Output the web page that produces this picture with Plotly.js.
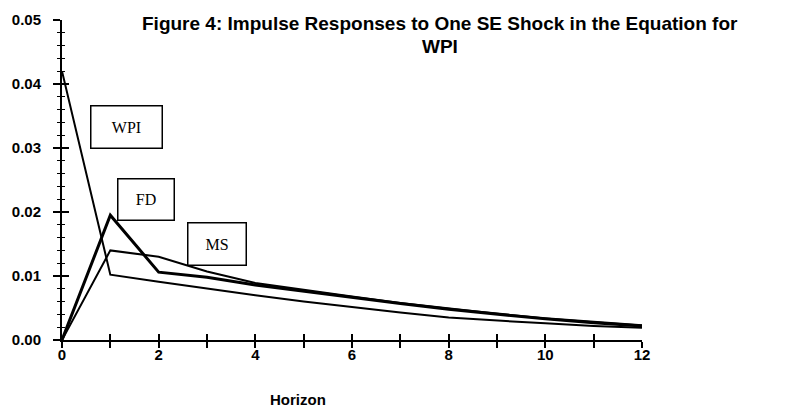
<!DOCTYPE html>
<html>
<head>
<meta charset="utf-8">
<script src="https://cdn.plot.ly/plotly-3.0.1.min.js"></script>
<style>html,body{margin:0;padding:0;background:#fff;}#chart{width:793px;height:411px;}</style>
</head>
<body>
<div id="chart"></div>
<script>
const horizon = [0,1,2,3,4,5,6,7,8,9,10,11,12];
const wpi = [0.0420,0.0102,0.0091,0.0080,0.0070,0.0060,0.0051,0.0043,0.0035,0.0030,0.0026,0.0022,0.0019];
const fd  = [0.0000,0.0195,0.0106,0.0098,0.0086,0.0076,0.0066,0.0057,0.0048,0.0040,0.0033,0.0027,0.0022];
const ms  = [0.0000,0.0140,0.0130,0.0107,0.0089,0.0078,0.0068,0.0058,0.0049,0.0041,0.0034,0.0028,0.0023];
const yTicks = [0,0.01,0.02,0.03,0.04,0.05];
const yTickText = ['0.00','0.01','0.02','0.03','0.04','0.05'];
const xTicks = [0,1,2,3,4,5,6,7,8,9,10,11,12];
const xTickText = ['0','','2','','4','','6','','8','','10','','12'];
const labels = ['WPI','FD','MS'];
const titleLines = ['Figure 4: Impulse Responses to One SE Shock in the Equation for', 'WPI'];
const xTitle = 'Horizon';

const traces = [
  {x: horizon, y: wpi, name: labels[0], mode: 'lines', line: {color: '#000', width: 2}},
  {x: horizon, y: ms,  name: labels[2], mode: 'lines', line: {color: '#000', width: 2}},
  {x: horizon, y: fd,  name: labels[1], mode: 'lines', line: {color: '#000', width: 3}},
  {x: [0], y: [0], xaxis: 'x2', yaxis: 'y2', mode: 'markers', marker: {opacity: 0}, showlegend: false, hoverinfo: 'skip'}
];

const sans = 'Arial, "Liberation Sans", sans-serif';
const tickFont = {family: sans, size: 15, color: '#000', weight: 'bold'};
const boxFont = {family: '"Times New Roman", "Liberation Serif", serif', size: 16, color: '#000'};
const titleFont = {family: sans, size: 19, color: '#000', weight: 'bold'};

function px2x(p) { return (p - 62) / 580; }
function px2y(p) { return (340 - p) / 320; }

const layout = {
  width: 793, height: 411,
  margin: {l: 62, r: 151, t: 20, b: 71},
  paper_bgcolor: '#fff', plot_bgcolor: '#fff',
  showlegend: false,
  xaxis: {
    range: [0, 12], tickvals: xTicks, ticktext: xTickText,
    ticks: 'outside', ticklen: 6, tickwidth: 2, tickcolor: '#000',
    ticklabelstandoff: -6,
    showline: true, linecolor: '#000', linewidth: 2,
    showgrid: false, zeroline: false, tickfont: tickFont
  },
  xaxis2: {
    overlaying: 'x', anchor: 'y', range: [0, 12], tickvals: xTicks,
    ticks: 'inside', ticklen: 6, tickwidth: 2, tickcolor: '#000',
    showticklabels: false, showline: false, showgrid: false, zeroline: false, side: 'bottom'
  },
  yaxis: {
    range: [0, 0.05], tickvals: yTicks, ticktext: yTickText,
    ticks: 'outside', ticklen: 7, tickwidth: 2, tickcolor: '#000',
    ticklabelstandoff: 9,
    minor: {dtick: 0.002, ticks: 'outside', ticklen: 3, tickwidth: 1, tickcolor: '#000', showgrid: false},
    showline: true, linecolor: '#000', linewidth: 2,
    showgrid: false, zeroline: false, tickfont: tickFont
  },
  yaxis2: {
    overlaying: 'y', anchor: 'x', range: [0, 0.05], tickvals: yTicks,
    ticks: 'inside', ticklen: 7, tickwidth: 2, tickcolor: '#000',
    minor: {dtick: 0.002, ticks: 'inside', ticklen: 3, tickwidth: 1, tickcolor: '#000', showgrid: false},
    showticklabels: false, showline: false, showgrid: false, zeroline: false, side: 'left'
  },
  annotations: [
    {text: titleLines[0], xref: 'paper', yref: 'paper', x: px2x(440), y: px2y(24), showarrow: false,
     xanchor: 'center', yanchor: 'middle', font: titleFont},
    {text: titleLines[1], xref: 'paper', yref: 'paper', x: px2x(440), y: px2y(47), showarrow: false,
     xanchor: 'center', yanchor: 'middle', font: titleFont},
    {text: labels[0], xref: 'paper', yref: 'paper', x: px2x(126), y: px2y(127), showarrow: false,
     xanchor: 'center', yanchor: 'middle', width: 70, height: 41, borderpad: 0,
     bordercolor: '#000', borderwidth: 1.5, bgcolor: '#fff', font: boxFont},
    {text: labels[1], xref: 'paper', yref: 'paper', x: px2x(145.5), y: px2y(199), showarrow: false,
     xanchor: 'center', yanchor: 'middle', width: 55, height: 40, borderpad: 0,
     bordercolor: '#000', borderwidth: 1.5, bgcolor: '#fff', font: boxFont},
    {text: labels[2], xref: 'paper', yref: 'paper', x: px2x(216.5), y: px2y(243.5), showarrow: false,
     xanchor: 'center', yanchor: 'middle', width: 57, height: 41, borderpad: 0,
     bordercolor: '#000', borderwidth: 1.5, bgcolor: '#fff', font: boxFont},
    {text: xTitle, xref: 'paper', yref: 'paper', x: px2x(298), y: px2y(399),
     showarrow: false, xanchor: 'center', yanchor: 'middle',
     font: {family: sans, size: 15, color: '#000', weight: 'bold'}}
  ]
};

Plotly.newPlot('chart', traces, layout, {displayModeBar: false, staticPlot: true});
</script>
</body>
</html>
